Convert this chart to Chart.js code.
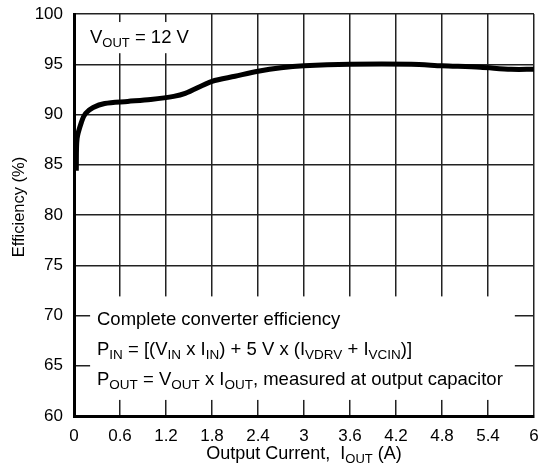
<!DOCTYPE html>
<html lang="en">
<head>
<meta charset="UTF-8">
<title>Efficiency vs Output Current</title>
<script src="https://cdn.jsdelivr.net/npm/chart.js"></script>
<style>
    body { margin: 0; padding: 0; background: #ffffff; }
    canvas { display: block; }
</style>
</head>
<body>
<canvas id="effChart" width="540" height="468"></canvas>
<script>
    // measured curve, VOUT = 12 V
    const currentA = [0.03, 0.04, 0.1, 0.15, 0.25, 0.4, 0.7, 1.0, 1.3, 1.45, 1.8, 2.1, 2.4, 2.7, 3.0, 3.6, 4.4, 4.8, 5.3, 5.7, 6.0];
    const efficiency = [84.4, 87.6, 89.3, 90.1, 90.7, 91.1, 91.3, 91.5, 91.8, 92.1, 93.3, 93.8, 94.3, 94.65, 94.85, 95.0, 95.0, 94.85, 94.7, 94.5, 94.5];

    const xTicks = [0, 0.6, 1.2, 1.8, 2.4, 3, 3.6, 4.2, 4.8, 5.4, 6];
    const yTicks = [60, 65, 70, 75, 80, 85, 90, 95, 100];

    const FONT = '"Liberation Sans", Arial, Helvetica, sans-serif';

    // text pieces: [string, isSubscript]
    const vLabel = [['V', false], ['OUT', true], [' = 12 V', false]];
    const noteLines = [
        [['Complete converter efficiency', false]],
        [['P', false], ['IN', true], [' = [(V', false], ['IN', true], [' x I', false], ['IN', true],
         [') + 5 V x (I', false], ['VDRV', true], [' + I', false], ['VCIN', true], [')]', false]],
        [['P', false], ['OUT', true], [' = V', false], ['OUT', true], [' x I', false], ['OUT', true],
         [', measured at output capacitor', false]]
    ];
    const xTitle = [['Output Current,  I', false], ['OUT', true], [' (A)', false]];
    const yTitle = 'Efficiency (%)';

    function richWidth(ctx, parts, size, subSize) {
        let w = 0;
        parts.forEach(([t, sub]) => {
            ctx.font = (sub ? subSize : size) + 'px ' + FONT;
            w += ctx.measureText(t).width;
        });
        return w;
    }

    function drawRich(ctx, parts, x, y, size, subSize) {
        ctx.textAlign = 'left';
        ctx.textBaseline = 'alphabetic';
        parts.forEach(([t, sub]) => {
            ctx.font = (sub ? subSize : size) + 'px ' + FONT;
            ctx.fillText(t, x, sub ? y + 4 : y);
            x += ctx.measureText(t).width;
        });
    }

    const notesPlugin = {
        id: 'notes',
        beforeDatasetsDraw(chart) {
            const ctx = chart.ctx;
            const xs = chart.scales.x, ys = chart.scales.y;
            ctx.save();
            ctx.fillStyle = '#ffffff';
            // blank areas behind the two labels
            ctx.fillRect(xs.getPixelForValue(0.03), ys.getPixelForValue(99.2), xs.getPixelForValue(1.64) - xs.getPixelForValue(0.03), ys.getPixelForValue(96.1) - ys.getPixelForValue(99.2));
            ctx.fillRect(xs.getPixelForValue(0.21), ys.getPixelForValue(71.9), xs.getPixelForValue(5.75) - xs.getPixelForValue(0.21), ys.getPixelForValue(61.6) - ys.getPixelForValue(71.9));
            ctx.fillStyle = '#000000';
            drawRich(ctx, vLabel, 90, 43, 18.5, 13);
            noteLines.forEach((line, i) => drawRich(ctx, line, 97, 325 + i * 30, 18.5, 13.5));
            ctx.restore();
        },
        afterDraw(chart) {
            const ctx = chart.ctx;
            const area = chart.chartArea;
            ctx.save();
            ctx.fillStyle = '#000000';
            const w = richWidth(ctx, xTitle, 18, 13);
            drawRich(ctx, xTitle, (area.left + area.right) / 2 - w / 2, 459, 18, 13);
            ctx.translate(24, 207);
            ctx.rotate(-Math.PI / 2);
            ctx.font = '16.5px ' + FONT;
            ctx.textAlign = 'center';
            ctx.fillText(yTitle, 0, 0);
            ctx.restore();
        }
    };

    new Chart(document.getElementById('effChart'), {
        type: 'line',
        data: {
            datasets: [{
                data: currentA.map((a, i) => ({ x: a, y: efficiency[i] })),
                borderColor: '#000000',
                borderWidth: 5,
                pointRadius: 0,
                tension: 0.3,
                fill: false
            }]
        },
        options: {
            responsive: false,
            animation: false,
            events: [],
            layout: { padding: { top: 14, right: 6, left: 0, bottom: 0 } },
            plugins: { legend: { display: false }, tooltip: { enabled: false } },
            scales: {
                x: {
                    type: 'linear',
                    min: 0,
                    max: 6,
                    afterBuildTicks: axis => { axis.ticks = xTicks.map(v => ({ value: v })); },
                    afterFit: axis => {
                        axis.height = 52;
                        axis.paddingLeft = 0;
                        axis.paddingRight = 0;
                    },
                    grid: { color: '#222222', lineWidth: 1.5, drawTicks: false },
                    border: { color: '#000000', width: 3 },
                    ticks: {
                        color: '#000000',
                        padding: 10,
                        maxRotation: 0,
                        font: { family: FONT, size: 17 },
                        callback: v => String(v)
                    }
                },
                y: {
                    min: 60,
                    max: 100,
                    afterBuildTicks: axis => { axis.ticks = yTicks.map(v => ({ value: v })); },
                    afterFit: axis => {
                        axis.width = 74;
                        axis.paddingTop = 0;
                        axis.paddingBottom = 0;
                    },
                    grid: { color: '#222222', lineWidth: 1.5, drawTicks: false },
                    border: { color: '#000000', width: 3 },
                    ticks: {
                        color: '#000000',
                        padding: 11,
                        font: { family: FONT, size: 17 }
                    }
                }
            }
        },
        plugins: [notesPlugin]
    });
</script>
</body>
</html>
